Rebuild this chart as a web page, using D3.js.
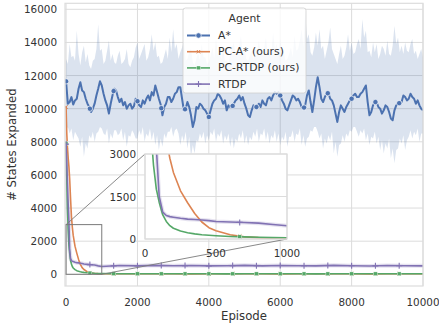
<!DOCTYPE html>
<html>
<head>
<meta charset="utf-8">
<script src="https://cdn.jsdelivr.net/npm/d3@7"></script>
<style>
  body { margin: 0; background: #fff; }
  svg { display: block; font-family: "DejaVu Sans", sans-serif; }
</style>
</head>
<body>
<svg id="chart" width="439" height="329"></svg>
<script>
// ---- data ----
const agents = ["A*", "PC-A* (ours)", "PC-RTDP (ours)", "RTDP"];
const colors = ["#4c72b0", "#dd8452", "#55a868", "#8172b3"];

const xTicks = [0, 2000, 4000, 6000, 8000, 10000];
const yTicks = [0, 2000, 4000, 6000, 8000, 10000, 12000, 14000, 16000];
const insetXTicks = [0, 500, 1000];
const insetYTicks = [0, 1500, 3000];

// A* sampled every 50 episodes
const aStarEpisodes = d3.range(0, 10001, 50);
const aStarMean = [
  11650,10300, 10400,10700, 10250,10500, 10600,11200, 11600,11100,
  11000,10600, 10300,10100, 9800,10000, 10300,10800, 11200,11650,
  11400,10900, 10500,10200, 9700,10300, 10800,11200, 11100,10700,
  10400,10600, 10200,10400, 10000,10200, 10300,10000, 10150,10600,
  10450,10200, 10100,10500, 10300,10600, 10800,10500, 11000,10800,
  11400,11000, 10600,10250, 9600,10100, 10300,10700, 10700,10400,
  10600,10900, 11000,11300, 11300,10600, 9900,10000, 10400,10100,
  9600,8900, 9300,10100, 10000,10300, 10200,10000, 9900,9700,
  9500,9900, 10300,10500, 10600,10900, 10800,10600, 10300,10500,
  9900,10200, 10100,10100, 10300,10500, 10600,10800, 10500,10700,
  10300,10000, 9600,9500, 9900,10200, 10100,10100, 10300,10100,
  10500,10300, 10200,10600, 10700,10500, 10800,11000, 10900,11000,
  10800,10500, 10300,10000, 9900,10200, 10500,10800, 10700,10500,
  10600,10400, 10100,10000, 10200,10800, 11100,10400, 9800,10500,
  11300,11900, 11300,10600, 10400,10700, 10900,10950, 10600,10500,
  10200,9700, 9200,9800, 10200,10000, 9800,10100, 10300,10500,
  10600,10800, 10900,10700, 10700,10900, 11000,11200, 11400,10400,
  9600,9800, 10200,10400, 10400,10100, 10000,9700, 9900,10200,
  10100,9800, 9400,9300, 9900,10200, 10300,10350, 10400,10800,
  10700,10500, 10600,10900, 10700,10600, 10300,10500, 10200,10000,
  9900];
const aStarUpper = [
  13000,12700, 13900,13100, 13200,12900, 14700,13300, 12600,13400,
  13800,12800, 13300,12600, 12400,12900, 13000,13600, 15100,13500,
  13600,12700, 12900,13500, 14100,12900, 13300,12800, 12700,13200,
  13500,12700, 12800,13000, 13600,12700, 12500,12900, 13100,13700,
  14000,13000, 13300,13600, 13900,12900, 13100,13600, 14500,13500,
  14000,13100, 13200,12700, 12800,13200, 13600,13000, 14300,13400,
  14800,13600, 13900,13000, 13400,13700, 14100,12900, 13000,13400,
  13600,12800, 12600,13000, 13400,12900, 13900,13100, 13100,12700,
  12800,13200, 13700,13000, 14200,13300, 13400,13000, 13800,12900,
  12900,12700, 13300,13700, 14000,13200, 13500,13800, 14400,13300,
  13600,13000, 12900,13200, 13500,12900, 13800,13300, 14100,13400,
  13300,13700, 14300,13200, 13600,13300, 14600,13600, 13900,13200,
  14200,13500, 13400,12900, 13000,13300, 13700,13100, 14400,13500,
  13600,14100, 14800,13700, 15900,14200, 14500,13400, 13200,13700,
  14600,13800, 14800,13600, 13800,13000, 13500,14000, 14900,13600,
  13300,13000, 12700,13300, 13800,13000, 13200,13700, 14500,13500,
  14000,13300, 13400,13900, 14200,13600, 15400,14300, 14700,13400,
  13500,13100, 14000,13400, 13900,13000, 13300,13800, 13600,13200,
  14100,13300, 13200,13800, 15000,13900, 14300,13400, 13800,13300,
  14000,13500, 13400,13900, 14200,13300, 13500,13000, 13300,13600,
  13100];
const aStarLower = [
  8700,8900, 8500,8800, 8100,8600, 8400,8200, 7700,8300,
  7100,7900, 7600,8400, 8200,8600, 8000,8500, 8600,8900,
  8800,8500, 8400,8800, 7900,8500, 8200,8700, 8700,8400,
  8500,8800, 8100,8600, 7700,8400, 8300,8700, 8500,8200,
  8200,8700, 8400,8900, 8000,8500, 8300,8800, 8100,8600,
  7800,8400, 7500,8200, 7700,8500, 8200,8600, 8600,8900,
  8300,8700, 8800,8500, 7800,8400, 8000,8600, 7600,8300,
  7100,7800, 7300,8100, 8000,8500, 8200,8600, 7900,8400,
  8100,8600, 8400,8800, 8000,8500, 8300,8700, 7900,8400,
  8100,8500, 7700,8300, 7600,8200, 8000,8500, 8200,8700,
  7900,8400, 7800,8300, 8100,8600, 8300,8800, 8000,8500,
  8400,8800, 8100,8600, 7900,8400, 8200,8700, 8000,8500,
  7800,8300, 8100,8600, 7700,8300, 8300,8700, 8000,8500,
  8400,8800, 7800,8400, 7700,8200, 8300,8700, 8600,8900,
  8900,8600, 8200,8500, 7600,8200, 7900,8400, 8100,8600,
  7300,8000, 7100,7800, 7900,8400, 8000,8500, 8300,8700,
  8600,8900, 8900,8600, 8300,8700, 8500,8800, 8100,8500,
  7800,8300, 8200,8600, 7900,8300, 7500,8100, 7300,7900,
  7600,8200, 7000,7600, 6700,7500, 7600,8200, 7900,8400,
  7500,8100, 8300,8700, 8200,8600, 8400,8800, 8000,8500,
  8500];

// the three fast-converging agents
const fastEpisodes = [0,20,40,60,80,100,125,150,175,200,250,300,350,400,450,500,600,700,800,900,1000,
  1500,2000,2500,3000,3500,4000,4500,5000,5500,6000,6500,7000,7500,8000,8500,9000,9500,10000];
const pcAStar = [10100,8500,7600,7000,6500,5800,4600,3500,2850,2350,1700,1280,900,600,400,290,150,75,50,40,35,
  32,30,31,30,29,30,31,30,30,29,30,31,30,30,29,30,30,30];
const pcRtdp = [7900,5800,3900,2600,1750,1300,850,620,470,380,280,220,180,150,130,115,90,75,60,50,45,
  35,32,30,31,30,30,29,30,31,30,30,29,30,30,31,30,30,30];
const rtdp = [7860,6700,5400,4200,3200,1500,950,830,790,770,730,700,690,670,650,620,600,580,560,510,470,
  530,510,540,520,530,510,520,540,510,530,520,510,540,520,500,530,520,510];

const markerEpisodes = [0,667,1333,2000,2667,3333,4000,4667,5333,6000,6667,7333,8000,8667,9333];

// ---- layout ----
const svg = d3.select("#chart");
const plot = {left: 65, right: 423, top: 3.3, bottom: 286};
const inset = {left: 145, right: 287, top: 154, bottom: 239};
const gridColor = "#dcdcdc";
const textColor = "#333";

const x = d3.scaleLinear().domain([-30, 10000]).range([plot.left, plot.right]);
const y = d3.scaleLinear().domain([-706, 16362]).range([plot.bottom, plot.top]);
const xi = d3.scaleLinear().domain([0, 1000]).range([inset.left, inset.right]);
const yi = d3.scaleLinear().domain([0, 3000]).range([inset.bottom, inset.top]);

const series = [
  {name: agents[0], color: colors[0], eps: aStarEpisodes, vals: aStarMean, marker: "circle", width: 2},
  {name: agents[1], color: colors[1], eps: fastEpisodes, vals: pcAStar, marker: "x", width: 1.6},
  {name: agents[2], color: colors[2], eps: fastEpisodes, vals: pcRtdp, marker: "square", width: 1.6},
  {name: agents[3], color: colors[3], eps: fastEpisodes, vals: rtdp, marker: "plus", width: 1.6}
];

// y of a line at episode e, used only to sit the markers on their line
function valueAt(eps, vals, e) {
  const i = d3.bisectLeft(eps, e);
  if (eps[i] === e) return vals[i];
  const t = (e - eps[i - 1]) / (eps[i] - eps[i - 1]);
  return vals[i - 1] + t * (vals[i] - vals[i - 1]);
}

function drawMarker(g, type, cx, cy, color) {
  if (type === "circle") {
    g.append("circle").attr("cx", cx).attr("cy", cy).attr("r", 2.7)
      .attr("fill", color).attr("stroke", "#fff").attr("stroke-width", 0.7);
  } else if (type === "square") {
    g.append("rect").attr("x", cx - 1.9).attr("y", cy - 1.9).attr("width", 3.8).attr("height", 3.8)
      .attr("fill", color).attr("stroke", "#fff").attr("stroke-width", 0.4);
  } else if (type === "x") {
    const s = 1.7;
    g.append("path").attr("d", `M${cx - s},${cy - s}L${cx + s},${cy + s}M${cx - s},${cy + s}L${cx + s},${cy - s}`)
      .attr("stroke", color).attr("stroke-width", 1).attr("fill", "none");
  } else {
    const s = 3;
    g.append("path").attr("d", `M${cx - s},${cy}L${cx + s},${cy}M${cx},${cy - s}L${cx},${cy + s}`)
      .attr("stroke", color).attr("stroke-width", 1.1).attr("fill", "none");
  }
}

const defs = svg.append("defs");
defs.append("clipPath").attr("id", "clipMain").append("rect")
  .attr("x", plot.left).attr("y", plot.top)
  .attr("width", plot.right - plot.left).attr("height", plot.bottom - plot.top);
defs.append("clipPath").attr("id", "clipInset").append("rect")
  .attr("x", inset.left).attr("y", inset.top)
  .attr("width", inset.right - inset.left).attr("height", inset.bottom - inset.top);

// ---- main axes ----
const grid = svg.append("g");
grid.selectAll(".gx").data(xTicks).enter().append("line")
  .attr("x1", d => x(d)).attr("x2", d => x(d)).attr("y1", plot.top).attr("y2", plot.bottom)
  .attr("stroke", gridColor).attr("stroke-width", 1);
grid.selectAll(".gy").data(yTicks).enter().append("line")
  .attr("x1", plot.left).attr("x2", plot.right).attr("y1", d => y(d)).attr("y2", d => y(d))
  .attr("stroke", gridColor).attr("stroke-width", 1);

svg.append("g").selectAll("text").data(xTicks).enter().append("text")
  .attr("x", d => x(d)).attr("y", 302).attr("text-anchor", "middle")
  .attr("dominant-baseline", "central").attr("font-size", 10.4).attr("fill", textColor)
  .text(d => d);
svg.append("g").selectAll("text").data(yTicks).enter().append("text")
  .attr("x", 57).attr("y", d => y(d)).attr("text-anchor", "end")
  .attr("dominant-baseline", "central").attr("font-size", 10.4).attr("fill", textColor)
  .text(d => d);

svg.append("text").attr("x", (plot.left + plot.right) / 2).attr("y", 316)
  .attr("text-anchor", "middle").attr("dominant-baseline", "central")
  .attr("font-size", 11.7).attr("fill", textColor).text("Episode");
svg.append("text").attr("transform", `translate(11.5,${(plot.top + plot.bottom) / 2}) rotate(-90)`)
  .attr("text-anchor", "middle").attr("dominant-baseline", "central")
  .attr("font-size", 11.7).attr("fill", textColor).text("# States Expanded");

const main = svg.append("g").attr("clip-path", "url(#clipMain)");

// A* band
main.append("path")
  .datum(aStarEpisodes.map((e, i) => [e, aStarLower[i], aStarUpper[i]]))
  .attr("fill", colors[0]).attr("fill-opacity", 0.2)
  .attr("d", d3.area().x(d => x(d[0])).y0(d => y(d[1])).y1(d => y(d[2])));

// RTDP thin band
main.append("path")
  .datum(fastEpisodes.map((e, i) => [e, rtdp[i]]))
  .attr("fill", "none").attr("stroke", colors[3]).attr("stroke-opacity", 0.2).attr("stroke-width", 4)
  .attr("d", d3.line().x(d => x(d[0])).y(d => y(d[1])));

function drawSeries(g, sx, sy) {
  series.forEach(s => {
    g.append("path")
      .datum(s.eps.map((e, i) => [e, s.vals[i]]))
      .attr("fill", "none").attr("stroke", s.color).attr("stroke-width", s.width)
      .attr("stroke-linejoin", "round")
      .attr("d", d3.line().x(d => sx(d[0])).y(d => sy(d[1])));
    markerEpisodes.forEach(e => {
      if (e > sx.domain()[1]) return;
      drawMarker(g, s.marker, sx(e), sy(valueAt(s.eps, s.vals, e)), s.color);
    });
  });
}
drawSeries(main, x, y);

// frame
svg.append("rect").attr("x", plot.left).attr("y", plot.top)
  .attr("width", plot.right - plot.left).attr("height", plot.bottom - plot.top)
  .attr("fill", "none").attr("stroke", gridColor).attr("stroke-width", 1.2);

// ---- zoom indicator ----
const zoomColor = "#7a7a7a";
svg.append("rect").attr("x", x(0)).attr("y", y(3000))
  .attr("width", x(1000) - x(0)).attr("height", y(0) - y(3000))
  .attr("fill", "none").attr("stroke", zoomColor).attr("stroke-width", 1);
svg.append("line").attr("x1", x(0)).attr("y1", y(3000)).attr("x2", inset.left).attr("y2", inset.top)
  .attr("stroke", zoomColor).attr("stroke-width", 0.9);
svg.append("line").attr("x1", x(1000)).attr("y1", y(0)).attr("x2", inset.right).attr("y2", inset.bottom)
  .attr("stroke", zoomColor).attr("stroke-width", 0.9);

// ---- inset ----
svg.append("rect").attr("x", inset.left).attr("y", inset.top)
  .attr("width", inset.right - inset.left).attr("height", inset.bottom - inset.top)
  .attr("fill", "#fff");
const ig = svg.append("g");
ig.selectAll(".gx").data(insetXTicks).enter().append("line")
  .attr("x1", d => xi(d)).attr("x2", d => xi(d)).attr("y1", inset.top).attr("y2", inset.bottom)
  .attr("stroke", gridColor);
ig.selectAll(".gy").data(insetYTicks).enter().append("line")
  .attr("x1", inset.left).attr("x2", inset.right).attr("y1", d => yi(d)).attr("y2", d => yi(d))
  .attr("stroke", gridColor);
ig.selectAll(".tx").data(insetXTicks).enter().append("text")
  .attr("x", d => xi(d)).attr("y", 253).attr("text-anchor", "middle")
  .attr("dominant-baseline", "central").attr("font-size", 10.4).attr("fill", textColor).text(d => d);
ig.selectAll(".ty").data(insetYTicks).enter().append("text")
  .attr("x", 136).attr("y", d => yi(d)).attr("text-anchor", "end")
  .attr("dominant-baseline", "central").attr("font-size", 10.4).attr("fill", textColor).text(d => d);

const insetPlot = svg.append("g").attr("clip-path", "url(#clipInset)");
insetPlot.append("path")
  .datum(fastEpisodes.map((e, i) => [e, rtdp[i]]))
  .attr("fill", "none").attr("stroke", colors[3]).attr("stroke-opacity", 0.2).attr("stroke-width", 4)
  .attr("d", d3.line().x(d => xi(d[0])).y(d => yi(d[1])));
drawSeries(insetPlot, xi, yi);
svg.append("rect").attr("x", inset.left).attr("y", inset.top)
  .attr("width", inset.right - inset.left).attr("height", inset.bottom - inset.top)
  .attr("fill", "none").attr("stroke", gridColor).attr("stroke-width", 1.2);

// ---- legend ----
const lg = svg.append("g");
lg.append("rect").attr("x", 183).attr("y", 8).attr("width", 123).attr("height", 85).attr("rx", 2.5)
  .attr("fill", "#fff").attr("fill-opacity", 0.8).attr("stroke", "#d0d0d0").attr("stroke-opacity", 0.8);
lg.append("text").attr("x", 244.5).attr("y", 18.5).attr("text-anchor", "middle")
  .attr("dominant-baseline", "central").attr("font-size", 10.8).attr("fill", textColor).text("Agent");
series.forEach((s, i) => {
  const cy = 35.5 + i * 16.2;
  lg.append("line").attr("x1", 187).attr("x2", 210).attr("y1", cy).attr("y2", cy)
    .attr("stroke", s.color).attr("stroke-width", s.width);
  drawMarker(lg, s.marker, 198.5, cy, s.color);
  lg.append("text").attr("x", 218).attr("y", cy).attr("dominant-baseline", "central")
    .attr("font-size", 10.8).attr("fill", textColor).text(s.name);
});
</script>
</body>
</html>
